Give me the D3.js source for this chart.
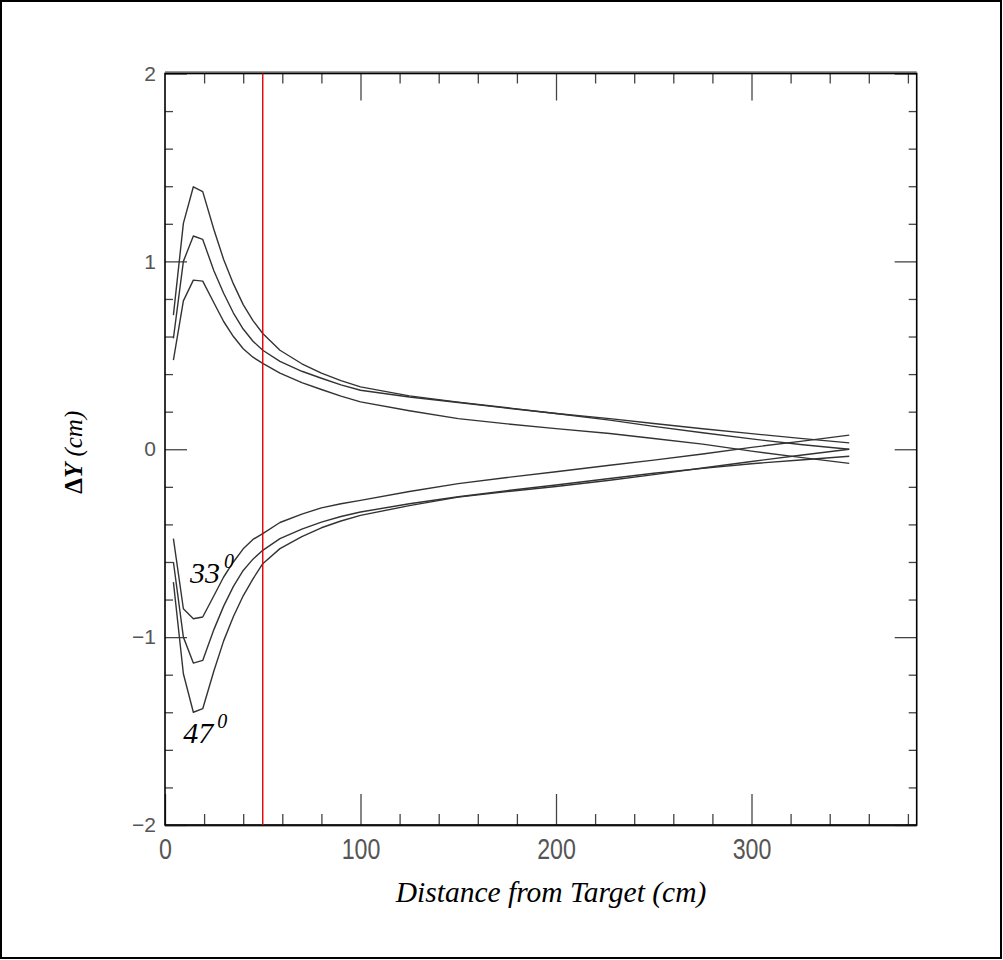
<!DOCTYPE html>
<html>
<head>
<meta charset="utf-8">
<script src="https://cdn.jsdelivr.net/npm/d3@7"></script>
<style>
  html, body { margin: 0; padding: 0; background: #fff; }
  svg { display: block; }
</style>
</head>
<body>
<svg id="chart" width="1003" height="960"></svg>
<script>
// ---- data ----
const distance = [4.3, 9.4, 14.5, 19.3, 25, 30, 35, 40, 45, 50, 58.8, 70, 80, 90, 100, 125, 150, 175, 200, 227.5, 250, 275, 300, 325, 350];

const upper47 = [0.714, 1.202, 1.397, 1.371, 1.17, 1.01, 0.88, 0.77, 0.685, 0.616, 0.527, 0.455, 0.405, 0.365, 0.332, 0.284, 0.251, 0.221, 0.19, 0.155, 0.122, 0.088, 0.055, 0.025, 0.0];
const upper40 = [0.59, 1.0, 1.135, 1.117, 0.95, 0.83, 0.725, 0.64, 0.575, 0.527, 0.468, 0.415, 0.378, 0.343, 0.314, 0.278, 0.249, 0.219, 0.19, 0.163, 0.137, 0.109, 0.083, 0.058, 0.034];
const upper33 = [0.474, 0.79, 0.90, 0.895, 0.78, 0.68, 0.60, 0.535, 0.49, 0.457, 0.405, 0.355, 0.318, 0.283, 0.252, 0.205, 0.163, 0.135, 0.11, 0.084, 0.057, 0.027, -0.01, -0.043, -0.075];
const lower33 = [-0.476, -0.849, -0.902, -0.893, -0.78, -0.68, -0.60, -0.53, -0.48, -0.449, -0.39, -0.345, -0.312, -0.29, -0.272, -0.225, -0.183, -0.15, -0.12, -0.085, -0.058, -0.025, 0.01, 0.042, 0.075];
const lower40 = [-0.60, -1.0, -1.138, -1.124, -0.96, -0.835, -0.73, -0.645, -0.585, -0.538, -0.476, -0.425, -0.388, -0.358, -0.334, -0.29, -0.253, -0.22, -0.19, -0.156, -0.128, -0.102, -0.077, -0.057, -0.037];
const lower47 = [-0.707, -1.195, -1.40, -1.381, -1.18, -1.02, -0.89, -0.78, -0.69, -0.609, -0.529, -0.465, -0.418, -0.382, -0.352, -0.30, -0.255, -0.225, -0.198, -0.165, -0.135, -0.10, -0.065, -0.032, 0.0];

const xMajorTicks = [0, 100, 200, 300];
const xMinorTicks = [20, 40, 60, 80, 120, 140, 160, 180, 220, 240, 260, 280, 320, 340, 360, 380];
const yMajorTicks = [-2, -1, 0, 1, 2];
const yMinorTicks = [-1.8, -1.6, -1.4, -1.2, -0.8, -0.6, -0.4, -0.2, 0.2, 0.4, 0.6, 0.8, 1.2, 1.4, 1.6, 1.8];
const markerDistance = 50;
const xDomain = [0, 384.5];
const yDomain = [-2, 2];
const xTitle = "Distance from Target (cm)";

// ---- drawing ----
const svg = d3.select("#chart");
const L = 165, R = 916.7, T = 73.5, B = 825;
const x = d3.scaleLinear().domain(xDomain).range([L, R]);
const y = d3.scaleLinear().domain(yDomain).range([B, T]);

// outer border
svg.append("rect").attr("x", 1).attr("y", 1).attr("width", 1000).attr("height", 957)
  .attr("fill", "none").attr("stroke", "#000").attr("stroke-width", 2);

// axes
function styleAxis(g) {
  g.select(".domain").remove();
  g.selectAll(".tick line").attr("stroke", "#444").attr("stroke-width", 1.3);
}
// bottom
svg.append("g").attr("transform", `translate(0,${B})`)
  .call(d3.axisBottom(x).tickValues(xMajorTicks).tickSizeInner(-31).tickSizeOuter(0).tickPadding(13).tickFormat(d3.format("d")))
  .call(styleAxis)
  .call(g => g.selectAll("text")
    .attr("font-family", "Liberation Sans, Arial, sans-serif").attr("font-size", 29)
    .attr("fill", "#555").attr("transform", "scale(0.8,1)"));
svg.append("g").attr("transform", `translate(0,${B})`)
  .call(d3.axisBottom(x).tickValues(xMinorTicks).tickSizeInner(-11).tickSizeOuter(0).tickFormat(""))
  .call(styleAxis);
// top
svg.append("g").attr("transform", `translate(0,${T})`)
  .call(d3.axisTop(x).tickValues(xMajorTicks.slice(1)).tickSizeInner(-27).tickSizeOuter(0).tickFormat(""))
  .call(styleAxis);
svg.append("g").attr("transform", `translate(0,${T})`)
  .call(d3.axisTop(x).tickValues(xMinorTicks).tickSizeInner(-10).tickSizeOuter(0).tickFormat(""))
  .call(styleAxis);
// left
svg.append("g").attr("transform", `translate(${L},0)`)
  .call(d3.axisLeft(y).tickValues(yMajorTicks).tickSizeInner(-22).tickSizeOuter(0).tickPadding(9).tickFormat(d3.format("d")))
  .call(styleAxis)
  .call(g => g.selectAll("text")
    .attr("font-family", "Liberation Sans, Arial, sans-serif").attr("font-size", 21)
    .attr("fill", "#555"));
svg.append("g").attr("transform", `translate(${L},0)`)
  .call(d3.axisLeft(y).tickValues(yMinorTicks).tickSizeInner(-8).tickSizeOuter(0).tickFormat(""))
  .call(styleAxis);
// right
svg.append("g").attr("transform", `translate(${R},0)`)
  .call(d3.axisRight(y).tickValues(yMajorTicks).tickSizeInner(-22).tickSizeOuter(0).tickFormat(""))
  .call(styleAxis);
svg.append("g").attr("transform", `translate(${R},0)`)
  .call(d3.axisRight(y).tickValues(yMinorTicks).tickSizeInner(-8).tickSizeOuter(0).tickFormat(""))
  .call(styleAxis);

// frame
svg.append("line").attr("x1", L).attr("x2", R).attr("y1", T - 1.5).attr("y2", T - 1.5)
  .attr("stroke", "#999").attr("stroke-width", 2);
svg.append("line").attr("x1", L).attr("x2", R).attr("y1", B + 0.5).attr("y2", B + 0.5)
  .attr("stroke", "#555").attr("stroke-width", 2);
svg.append("rect").attr("x", L).attr("y", T).attr("width", R - L).attr("height", B - T)
  .attr("fill", "none").attr("stroke", "#000").attr("stroke-width", 1.6);

// curves
const series = [upper47, upper40, upper33, lower33, lower40, lower47];
const line = d3.line().x((d, i) => x(distance[i])).y(d => y(d));
svg.append("g").selectAll("path").data(series).join("path")
  .attr("d", d => line(d))
  .attr("fill", "none").attr("stroke", "#333").attr("stroke-width", 1.4)
  .attr("stroke-linejoin", "round");

// red marker line
svg.append("line").attr("x1", x(markerDistance)).attr("x2", x(markerDistance))
  .attr("y1", y(yDomain[1])).attr("y2", y(yDomain[0]))
  .attr("stroke", "#e00000").attr("stroke-width", 1.4);

// angle annotations
function angleLabel(px, py, num) {
  const t = svg.append("text").attr("x", px).attr("y", py)
    .attr("font-family", "Liberation Serif, Times New Roman, serif")
    .attr("font-style", "italic").attr("font-size", 30).attr("fill", "#000");
  t.append("tspan").text(num);
  t.append("tspan").attr("font-size", 20).attr("dx", 4).attr("dy", -15).text("0");
}
angleLabel(x(12.8), y(-0.71), "33");
angleLabel(x(9.3), y(-1.565), "47");

// axis titles
svg.append("text").attr("x", 551).attr("y", 902)
  .attr("text-anchor", "middle")
  .attr("font-family", "Liberation Serif, Times New Roman, serif")
  .attr("font-style", "italic").attr("font-size", 29.5).attr("fill", "#000")
  .text(xTitle);

const yt = svg.append("text")
  .attr("transform", `translate(82,${y(0) + 3}) rotate(-90)`)
  .attr("text-anchor", "middle")
  .attr("font-family", "Liberation Serif, Times New Roman, serif")
  .attr("font-size", 25).attr("fill", "#000");
yt.append("tspan").attr("font-weight", "bold").text("Δ");
yt.append("tspan").attr("font-weight", "bold").attr("font-style", "italic").text("Y");
yt.append("tspan").attr("font-style", "italic").text(" (cm)");
</script>
</body>
</html>
